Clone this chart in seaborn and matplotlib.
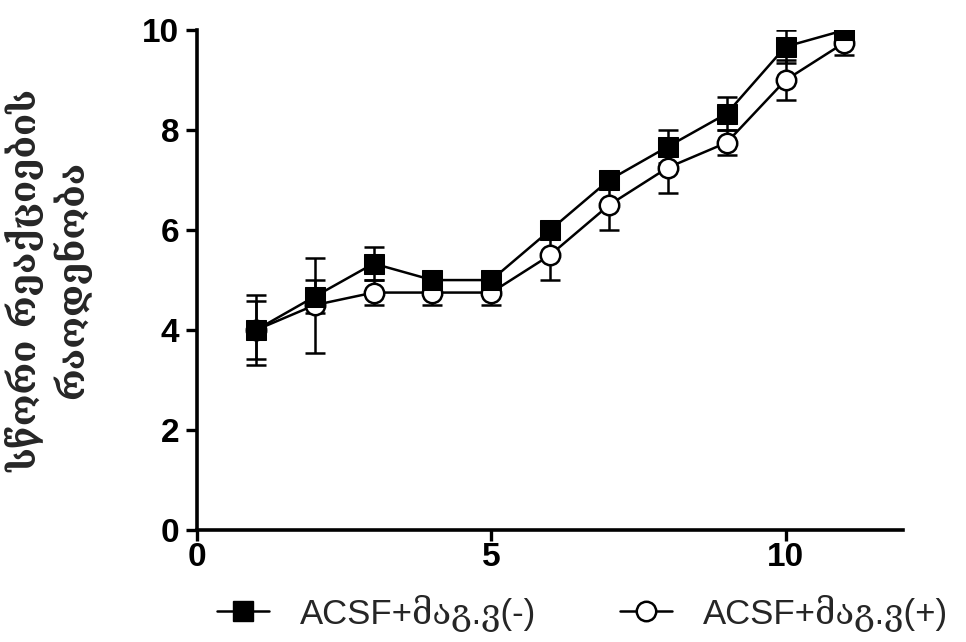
import matplotlib
matplotlib.use("Agg")
import matplotlib.pyplot as plt
import seaborn as sns
import pandas as pd
from matplotlib.lines import Line2D

# Trial number
trials = [1, 2, 3, 4, 5, 6, 7, 8, 9, 10, 11]

# ACSF + მაგ.ვ(-)
neg_mean = [4.0, 4.67, 5.33, 5.0, 5.0, 6.0, 7.0, 7.67, 8.33, 9.67, 10.0]
neg_err = [0.58, 0.33, 0.33, 0.0, 0.0, 0.0, 0.0, 0.33, 0.33, 0.33, 0.0]

# ACSF + მაგ.ვ(+)
pos_mean = [4.0, 4.5, 4.75, 4.75, 4.75, 5.5, 6.5, 7.25, 7.75, 9.0, 9.75]
pos_err = [0.7, 0.95, 0.25, 0.25, 0.25, 0.5, 0.5, 0.5, 0.25, 0.4, 0.25]

labels = ["ACSF+მაგ.ვ(-)", "ACSF+მაგ.ვ(+)"]
y_label = "სწორი რეაქციების\nრაოდენობა"

sns.set_theme(style="ticks")
plt.rcParams["font.family"] = ["Liberation Sans", "DejaVu Serif", "DejaVu Sans"]

df = pd.DataFrame({
    "trial": trials * 2,
    "value": neg_mean + pos_mean,
    "group": [labels[0]] * len(trials) + [labels[1]] * len(trials),
})

fig = plt.figure(figsize=(9.66, 6.42), dpi=100)
ax = fig.add_axes([0.204, 0.1745, 0.731, 0.7785])

LW = 1.8
MS = 14

# error bars first, markers drawn over them
ax.errorbar(trials, neg_mean, yerr=neg_err, fmt="none", ecolor="black",
            elinewidth=LW, capsize=7, capthick=LW, zorder=2)
ax.errorbar(trials, pos_mean, yerr=pos_err, fmt="none", ecolor="black",
            elinewidth=LW, capsize=7, capthick=LW, zorder=2)

sns.lineplot(data=df, x="trial", y="value", hue="group", style="group",
             markers={labels[0]: "s", labels[1]: "o"}, dashes=False,
             palette={labels[0]: "black", labels[1]: "black"},
             linewidth=LW, markersize=MS, legend=False, ax=ax, zorder=3)

for ln in ax.get_lines():
    if ln.get_marker() == "s":
        ln.set_markerfacecolor("black")
        ln.set_markeredgecolor("black")
        ln.set_zorder(4)
    elif ln.get_marker() == "o":
        ln.set_markerfacecolor("white")
        ln.set_markeredgecolor("black")
        ln.set_markeredgewidth(LW)
        ln.set_zorder(3)

ax.set_xlim(0, 12)
ax.set_ylim(0, 10)
ax.set_xticks([0, 5, 10])
ax.set_yticks([0, 2, 4, 6, 8, 10])
ax.set_xlabel("")

sns.despine(ax=ax)
for s in ["left", "bottom"]:
    ax.spines[s].set_linewidth(2.6)
    ax.spines[s].set_color("black")
ax.tick_params(axis="both", which="major", length=8, width=2.4, color="black",
               labelcolor="black", labelsize=24, pad=5)
ax.tick_params(axis="x", pad=1)
ax.grid(False)

for lab in ax.get_xticklabels() + ax.get_yticklabels():
    lab.set_fontweight("bold")
    lab.set_family("Liberation Sans")

ax.set_ylabel(y_label, fontsize=26, fontweight="bold",
              family=["DejaVu Serif", "DejaVu Sans"], linespacing=1.25)
ax.yaxis.set_label_coords(-0.15, 0.5)

handles = [
    Line2D([], [], color="black", lw=LW, marker="s", markersize=MS,
           markerfacecolor="black", markeredgecolor="black"),
    Line2D([], [], color="black", lw=LW, marker="o", markersize=MS,
           markerfacecolor="white", markeredgecolor="black", markeredgewidth=LW),
]
fig.legend(handles, labels, loc="center", bbox_to_anchor=(0.603, 0.045),
           ncol=2, frameon=False, handlelength=1.5, columnspacing=2.4,
           handletextpad=0.9,
           prop={"family": ["Liberation Sans", "DejaVu Serif", "DejaVu Sans"],
                 "size": 25})

fig.savefig("out.png", dpi=100)
